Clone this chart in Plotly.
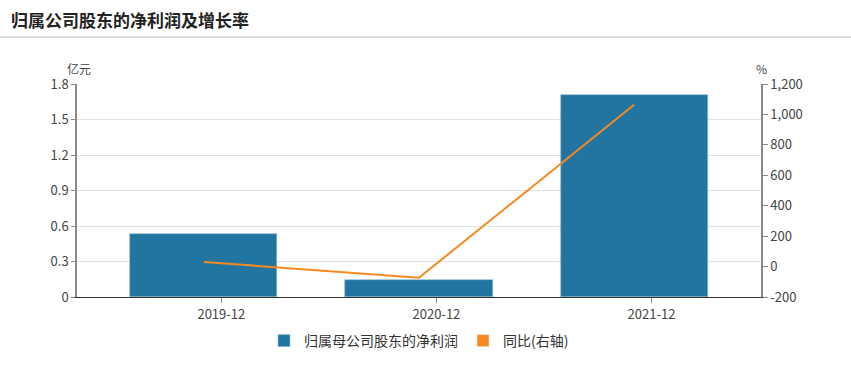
import plotly.graph_objects as go

categories = ["2019-12", "2020-12", "2021-12"]
net_profit = [0.532, 0.144, 1.705]          # 亿元
yoy_growth = [30, -73, 1063]                 # %
left_ticks = [0, 0.3, 0.6, 0.9, 1.2, 1.5, 1.8]
left_ticktext = ["0", "0.3", "0.6", "0.9", "1.2", "1.5", "1.8"]
right_ticks = [-200, 0, 200, 400, 600, 800, 1000, 1200]
right_ticktext = ["-200", "0", "200", "400", "600", "800", "1,000", "1,200"]

idx = list(range(len(categories)))
FONT = "Noto Sans CJK SC, Microsoft YaHei, sans-serif"
BLUE = "#2275a0"
ORANGE = "#f7891e"
TICKFONT = dict(size=13, color="#444")

fig = go.Figure()
fig.add_trace(go.Bar(
    x=idx, y=net_profit, name="归属母公司股东的净利润",
    marker=dict(color=BLUE, line=dict(color="#8fb8cf", width=0.6)),
    width=0.684, yaxis="y",
))
fig.add_trace(go.Scatter(
    x=idx, y=yoy_growth, name="同比(右轴)", mode="lines",
    line=dict(color=ORANGE, width=2), yaxis="y2", showlegend=False,
))
# legend swatch for the line (reference shows a box)
fig.add_trace(go.Bar(
    x=[None], y=[None], name="同比(右轴)",
    marker=dict(color=ORANGE), yaxis="y2",
))

fig.update_layout(
    width=851, height=365,
    margin=dict(l=77, r=90, t=84, b=68),
    paper_bgcolor="white", plot_bgcolor="white",
    font=dict(family=FONT, size=12, color="#444"),
    showlegend=True,
    legend=dict(orientation="h", x=0.5, xanchor="center", yref="container",
                y=1 - 341/365, yanchor="middle",
                font=dict(size=14, color="#333"), itemwidth=30, traceorder="normal"),
    xaxis=dict(
        range=[-0.59, 2.59], tickvals=[i + 0.081 for i in idx], ticktext=categories,
        showgrid=False, zeroline=False, showline=True, linecolor="#333", linewidth=1,
        ticks="outside", ticklen=5, tickcolor="#888", tickfont=TICKFONT,
        automargin=False,
    ),
    yaxis=dict(
        range=[0, 1.8], tickvals=left_ticks, ticktext=left_ticktext,
        showgrid=True, gridcolor="#e2e2e2", gridwidth=1, zeroline=False,
        showline=True, linecolor="#888", linewidth=1.5, automargin=False,
        ticks="outside", ticklen=4, tickcolor="#888", tickfont=TICKFONT,
    ),
    yaxis2=dict(
        range=[-200, 1200], tickvals=right_ticks, ticktext=right_ticktext,
        overlaying="y", side="right", showgrid=False, zeroline=False,
        showline=True, linecolor="#888", linewidth=1.5, automargin=False,
        ticks="outside", ticklen=5, tickcolor="#888", tickfont=TICKFONT,
    ),
    bargap=0, barmode="overlay",
    shapes=[dict(type="line", xref="paper", yref="paper", x0=-77/684, x1=(851-77)/684,
                 y0=1 + (84-37)/213, y1=1 + (84-37)/213, line=dict(color="#dcdcdc", width=2))],
    annotations=[
        dict(text="<b>归属公司股东的净利润及增长率</b>", xref="paper", yref="paper",
             x=-68/684, y=1 + (84-19)/213, xanchor="left", yanchor="middle", showarrow=False,
             font=dict(size=17, color="#222")),
        dict(text="亿元", xref="paper", yref="paper", x=-12/684, y=1 + 16/213,
             xanchor="left", yanchor="middle", showarrow=False, font=dict(size=12, color="#444")),
        dict(text="%", xref="paper", yref="paper", x=1, y=1 + 16/213,
             xanchor="center", yanchor="middle", showarrow=False, font=dict(size=12, color="#444")),
    ],
)

fig.write_html("out.html", config={"displayModeBar": False},
               post_script="document.body.style.margin='0';document.body.style.overflow='hidden';")
